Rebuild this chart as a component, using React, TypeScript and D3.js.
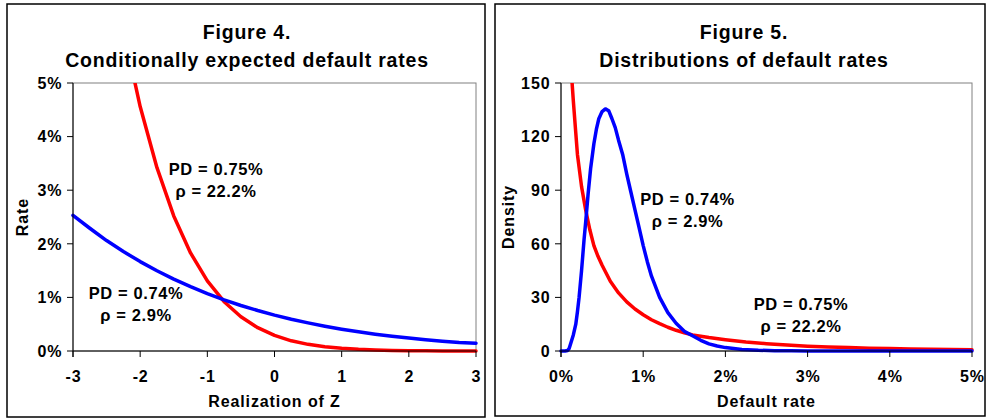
import React from "react";
import * as d3 from "d3";

// ---------- Figure 4 data (conditional default rate, %) ----------
const zValues = [-3, -2.75, -2.5, -2.25, -2, -1.75, -1.5, -1.25, -1, -0.75, -0.5, -0.25, 0, 0.25, 0.5, 0.75, 1, 1.25, 1.5, 1.75, 2, 2.25, 2.5, 2.75, 3];
const rateHighRho = [12.41, 9.88, 7.75, 5.99, 4.56, 3.42, 2.52, 1.83, 1.31, 0.92, 0.64, 0.435, 0.29, 0.19, 0.124, 0.079, 0.05, 0.031, 0.019, 0.011, 0.0065, 0.0037, 0.002, 0.0012, 0.0007];
const rateLowRho = [2.53, 2.29, 2.06, 1.855, 1.668, 1.497, 1.341, 1.2, 1.071, 0.955, 0.849, 0.755, 0.669, 0.592, 0.524, 0.462, 0.407, 0.358, 0.314, 0.275, 0.241, 0.21, 0.183, 0.16, 0.145];
const fig4XTicks = [-3, -2, -1, 0, 1, 2, 3];
const fig4XLabels = ["-3", "-2", "-1", "0", "1", "2", "3"];
const fig4YTicks = [0, 1, 2, 3, 4, 5];
const fig4YLabels = ["0%", "1%", "2%", "3%", "4%", "5%"];

// ---------- Figure 5 data (density of default rate) ----------
const densLowX = [0, 0.05, 0.08, 0.1, 0.12, 0.15, 0.18, 0.2, 0.22, 0.25, 0.28, 0.3, 0.33, 0.36, 0.4, 0.43, 0.46, 0.5, 0.54, 0.58, 0.62, 0.66, 0.7, 0.75, 0.8, 0.85, 0.9, 0.95, 1, 1.05, 1.1, 1.2, 1.3, 1.4, 1.5, 1.6, 1.7, 1.8, 1.9, 2, 2.2, 2.4, 2.6, 2.8, 3, 3.5, 4, 4.5, 5];
const densLowY = [0, 0, 0.3, 1.5, 4.5, 9, 15, 22, 30, 45, 62, 72, 88, 102, 116, 124, 130, 134, 135.5, 134.5, 130, 125, 118, 110, 99, 89, 79, 69, 59, 50, 42, 30, 21.5, 15.5, 11, 8.5, 6, 4, 2.8, 1.9, 0.9, 0.4, 0.2, 0.1, 0.05, 0, 0, 0, 0];
const densHighX = [0.1, 0.12, 0.15, 0.18, 0.2, 0.25, 0.3, 0.35, 0.4, 0.45, 0.5, 0.6, 0.7, 0.8, 0.9, 1, 1.1, 1.2, 1.3, 1.4, 1.5, 1.6, 1.8, 2, 2.25, 2.5, 2.75, 3, 3.25, 3.5, 3.75, 4, 4.25, 4.5, 4.75, 5];
const densHighY = [180, 160, 140, 122, 110, 92, 79, 68, 59, 53, 48, 39, 32.5, 27.5, 23.5, 20.3, 17.5, 15.3, 13.3, 11.6, 10.2, 9.0, 7.5, 6.3, 5, 4.1, 3.3, 2.7, 2.3, 1.9, 1.6, 1.35, 1.15, 1, 0.85, 0.75];
const fig5XTicks = [0, 1, 2, 3, 4, 5];
const fig5XLabels = ["0%", "1%", "2%", "3%", "4%", "5%"];
const fig5YTicks = [0, 30, 60, 90, 120, 150];
const fig5YLabels = ["0", "30", "60", "90", "120", "150"];

const FONT = "'Liberation Sans', Arial, Helvetica, sans-serif";
const RED = "#ff0000";
const BLUE = "#0000ff";

type Series = { xs: number[]; ys: number[]; color: string };
type Note = { x: number; y: number; lines: string[] };

type PanelProps = {
  id: string;
  box: [number, number, number, number];
  plot: [number, number, number, number];
  title: [string, string];
  titleX: number;
  xDomain: [number, number];
  yDomain: [number, number];
  xTicks: number[];
  xLabels: string[];
  yTicks: number[];
  yLabels: string[];
  xTitle: string;
  yTitle: string;
  yTitleX: number;
  series: Series[];
  notes: Note[];
};

function Panel(p: PanelProps) {
  const [bx0, by0, bx1, by1] = p.box;
  const [px0, py0, px1, py1] = p.plot;
  const x = d3.scaleLinear().domain(p.xDomain).range([px0, px1]);
  const y = d3.scaleLinear().domain(p.yDomain).range([py1, py0]);
  const tick = 6;
  return (
    <g>
      <rect x={bx0} y={by0} width={bx1 - bx0} height={by1 - by0} fill="#fff" stroke="#000" strokeWidth={1.5} />
      <text x={p.titleX} y={38.5} textAnchor="middle" fontFamily={FONT} fontWeight="bold" fontSize={19.5} letterSpacing={0.8}>{p.title[0]}</text>
      <text x={p.titleX} y={66.5} textAnchor="middle" fontFamily={FONT} fontWeight="bold" fontSize={19.5} letterSpacing={0.8}>{p.title[1]}</text>
      <defs>
        <clipPath id={p.id + "clip"}>
          <rect x={px0 - 3} y={py0} width={px1 - px0 + 6} height={py1 - py0 + 3} />
        </clipPath>
      </defs>
      <rect x={px0} y={py0} width={px1 - px0} height={py1 - py0} fill="none" stroke="#808080" strokeWidth={1} />
      <g clipPath={`url(#${p.id}clip)`}>
        {p.series.map((s, i) => {
          const pts: [number, number][] = s.xs.map((v, k) => [v, s.ys[k]]);
          const line = d3.line<[number, number]>().x((d) => x(d[0])).y((d) => y(d[1]));
          return <path key={i} d={line(pts) || ""} fill="none" stroke={s.color} strokeWidth={3.5} strokeLinejoin="round" strokeLinecap="round" />;
        })}
      </g>
      {/* axes */}
      <line x1={px0} y1={py0} x2={px0} y2={py1 + tick} stroke="#000" strokeWidth={1} />
      <line x1={px0} y1={py1} x2={px1} y2={py1} stroke="#000" strokeWidth={1} />
      {p.yTicks.map((t, i) => (
        <g key={"y" + i}>
          <line x1={px0 - tick} x2={px0} y1={y(t)} y2={y(t)} stroke="#000" strokeWidth={1} />
          <text x={px0 - 10.5} y={y(t)} dy="0.36em" textAnchor="end" fontFamily={FONT} fontWeight="bold" fontSize={16} letterSpacing={0.9}>{p.yLabels[i]}</text>
        </g>
      ))}
      {p.xTicks.map((t, i) => (
        <g key={"x" + i}>
          <line x1={x(t)} x2={x(t)} y1={py1} y2={py1 + tick} stroke="#000" strokeWidth={1} />
          <text x={x(t) + 0.5} y={382} textAnchor="middle" fontFamily={FONT} fontWeight="bold" fontSize={16} letterSpacing={0.9}>{p.xLabels[i]}</text>
        </g>
      ))}
      <text x={(px0 + px1) / 2} y={406.5} textAnchor="middle" fontFamily={FONT} fontWeight="bold" fontSize={16} letterSpacing={0.9}>{p.xTitle}</text>
      <text transform={`translate(${p.yTitleX},${(py0 + py1) / 2}) rotate(-90)`} textAnchor="middle" fontFamily={FONT} fontWeight="bold" fontSize={16} letterSpacing={0.9}>{p.yTitle}</text>
      {p.notes.map((n, i) => (
        <g key={"n" + i}>
          {n.lines.map((l, k) => (
            <text key={k} x={n.x} y={n.y + k * 22} textAnchor="middle" fontFamily={FONT} fontWeight="bold" fontSize={16.5} letterSpacing={0.6}>{l}</text>
          ))}
        </g>
      ))}
    </g>
  );
}

export default function App() {
  return (
    <svg width={986} height={418} style={{ position: "absolute", left: 0, top: 0, background: "#fff" }}>
      <rect width={986} height={418} fill="#fff" />
      <Panel
        id="f4"
        box={[7, 4, 485, 417]}
        plot={[73, 83, 476, 351]}
        title={["Figure 4.", "Conditionally expected default rates"]}
        titleX={247}
        xDomain={[-3, 3]}
        yDomain={[0, 5]}
        xTicks={fig4XTicks}
        xLabels={fig4XLabels}
        yTicks={fig4YTicks}
        yLabels={fig4YLabels}
        xTitle="Realization of Z"
        yTitle="Rate"
        yTitleX={28}
        series={[
          { xs: zValues, ys: rateHighRho, color: RED },
          { xs: zValues, ys: rateLowRho, color: BLUE },
        ]}
        notes={[
          { x: 216, y: 175, lines: ["PD = 0.75%", "ρ = 22.2%"] },
          { x: 136, y: 298.5, lines: ["PD = 0.74%", "ρ = 2.9%"] },
        ]}
      />
      <Panel
        id="f5"
        box={[495, 4, 985, 416]}
        plot={[561, 83, 972, 351]}
        title={["Figure 5.", "Distributions of default rates"]}
        titleX={744}
        xDomain={[0, 5]}
        yDomain={[0, 150]}
        xTicks={fig5XTicks}
        xLabels={fig5XLabels}
        yTicks={fig5YTicks}
        yLabels={fig5YLabels}
        xTitle="Default rate"
        yTitle="Density"
        yTitleX={513.5}
        series={[
          { xs: densHighX, ys: densHighY, color: RED },
          { xs: densLowX, ys: densLowY, color: BLUE },
        ]}
        notes={[
          { x: 687.5, y: 205, lines: ["PD = 0.74%", "ρ = 2.9%"] },
          { x: 801, y: 310, lines: ["PD = 0.75%", "ρ = 22.2%"] },
        ]}
      />
    </svg>
  );
}
